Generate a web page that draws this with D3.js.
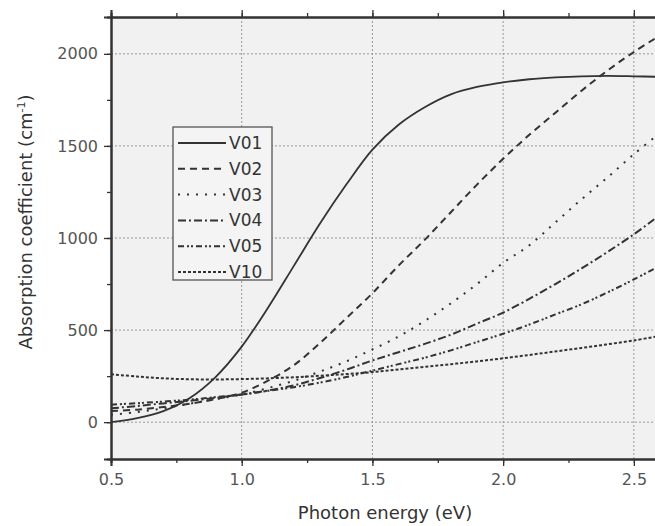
<!DOCTYPE html>
<html>
<head>
<meta charset="utf-8">
<script src="https://cdn.jsdelivr.net/npm/d3@7"></script>
<style>
  body { margin: 0; background: #fff; }
  text { font-family: "DejaVu Sans", Verdana, sans-serif; }
</style>
</head>
<body>
<div id="chart"></div>
<script>
// photon energy (eV) sample points
const energy = [0.5, 0.6, 0.7, 0.8, 0.9, 1.0, 1.1, 1.2, 1.3, 1.4, 1.5, 1.6, 1.7, 1.8, 1.9, 2.0, 2.1, 2.2, 2.3, 2.4, 2.5, 2.6]

// absorption coefficient (cm^-1)
const v01 = [0, 22, 60, 130, 245, 410, 620, 850, 1080, 1290, 1480, 1615, 1710, 1780, 1820, 1845, 1862, 1872, 1878, 1880, 1878, 1875]
const v02 = [60, 68, 82, 100, 125, 160, 225, 310, 430, 565, 700, 850, 990, 1140, 1290, 1430, 1560, 1680, 1800, 1910, 2010, 2100]
const v03 = [40, 55, 75, 100, 125, 150, 185, 225, 275, 330, 395, 465, 550, 645, 750, 865, 960, 1085, 1210, 1330, 1455, 1570]
const v04 = [75, 88, 102, 116, 132, 150, 172, 200, 240, 285, 335, 380, 425, 475, 535, 595, 670, 750, 835, 925, 1020, 1125]
const v05 = [95, 103, 112, 122, 136, 150, 170, 190, 215, 245, 280, 315, 350, 390, 435, 480, 530, 585, 640, 705, 775, 850]
const v10 = [260, 248, 238, 233, 232, 234, 238, 244, 252, 261, 272, 286, 300, 315, 330, 347, 365, 384, 403, 423, 444, 468]

const seriesNames = ['V01', 'V02', 'V03', 'V04', 'V05', 'V10']
const seriesValues = [v01, v02, v03, v04, v05, v10]
const dashes = ['none', '7,5', '2,7', '8,3,2,3', '6,3,2,2,2,3', '3,2']

const xTicks = [0.5, 1.0, 1.5, 2.0, 2.5]
const yTicks = [0, 500, 1000, 1500, 2000]

const size = { width: 655, height: 526, left: 111, top: 17, bottom: 459, right: 660 }

const x = d3.scaleLinear().domain([0.5, 2.6]).range([size.left, size.right])
const y = d3.scaleLinear().domain([-200, 2200]).range([size.bottom, size.top])

const svg = d3.select('#chart')
.append('svg')
.attr('width', size.width)
.attr('height', size.height)

svg.append('rect')
.attr('x', size.left)
.attr('y', size.top)
.attr('width', size.right - size.left)
.attr('height', size.bottom - size.top)
.attr('fill', '#f1f1f1')

// dotted grid at the major ticks
svg.append('g')
.selectAll('line')
.data(xTicks.slice(1))
.enter()
.append('line')
.attr('x1', d => x(d)).attr('x2', d => x(d))
.attr('y1', size.top).attr('y2', size.bottom)
.attr('stroke', '#999').attr('stroke-width', 1).attr('stroke-dasharray', '2,2')

svg.append('g')
.selectAll('line')
.data(yTicks)
.enter()
.append('line')
.attr('x1', size.left).attr('x2', size.right)
.attr('y1', d => y(d)).attr('y2', d => y(d))
.attr('stroke', '#999').attr('stroke-width', 1).attr('stroke-dasharray', '2,2')

const line = d3.line()
.x((d, i) => x(energy[i]))
.y(d => y(d))
.curve(d3.curveCatmullRom)

svg.append('g')
.selectAll('path')
.data(seriesValues)
.enter()
.append('path')
.attr('d', d => line(d))
.attr('fill', 'none')
.attr('stroke', '#333')
.attr('stroke-width', (d, i) => i == 0 ? 1.8 : 2)
.attr('stroke-dasharray', (d, i) => dashes[i])

// axes: bottom / left with labels, top without
const minorX = d3.range(0.5, 2.61, 0.25)
const minorY = d3.range(-250, 2201, 250).filter(v => v >= -200)

svg.append('g')
.attr('transform', `translate(0,${size.bottom})`)
.call(d3.axisBottom(x).tickValues(minorX).tickSize(4).tickFormat(''))
svg.append('g')
.attr('transform', `translate(0,${size.bottom})`)
.call(d3.axisBottom(x).tickValues(xTicks).tickSize(7).tickPadding(8).tickFormat(d3.format('.1f')))

svg.append('g')
.attr('transform', `translate(0,${size.top})`)
.call(d3.axisTop(x).tickValues(minorX).tickSize(4).tickFormat(''))
svg.append('g')
.attr('transform', `translate(0,${size.top})`)
.call(d3.axisTop(x).tickValues(xTicks).tickSize(7).tickFormat(''))

svg.append('g')
.attr('transform', `translate(${size.left},0)`)
.call(d3.axisLeft(y).tickValues(minorY).tickSize(4).tickFormat(''))
svg.append('g')
.attr('transform', `translate(${size.left},0)`)
.call(d3.axisLeft(y).tickValues(yTicks).tickSize(7).tickPadding(6).tickFormat(d3.format('d')))

svg.selectAll('.domain').attr('stroke', '#333').attr('stroke-width', 2)
svg.selectAll('.tick line').attr('stroke', '#333').attr('stroke-width', 1.3)
svg.selectAll('.tick text').attr('fill', '#555').style('font-size', '16px')

svg.append('text')
.attr('x', 385).attr('y', 519)
.attr('text-anchor', 'middle')
.style('font-size', '18px')
.attr('fill', '#333')
.text('Photon energy (eV)')

const yTitle = svg.append('text')
.attr('transform', 'translate(32,222) rotate(-90)')
.attr('text-anchor', 'middle')
.style('font-size', '18px')
.attr('fill', '#333')
yTitle.append('tspan').text('Absorption coefficient (cm')
yTitle.append('tspan').attr('dy', -7).style('font-size', '11px').text('-1')
yTitle.append('tspan').attr('dy', 7).text(')')

// legend
const legend = svg.append('g')
legend.append('rect')
.attr('x', 173).attr('y', 127)
.attr('width', 99).attr('height', 153)
.attr('fill', '#f4f4f4').attr('stroke', '#555').attr('stroke-width', 1.3)

const rowY = d3.scaleLinear().domain([0, 5]).range([143, 272])
const rows = legend.selectAll('g.row')
.data(seriesNames)
.enter()
.append('g')
.attr('class', 'row')
.attr('transform', (d, i) => `translate(0,${rowY(i)})`)

rows.append('line')
.attr('x1', 178).attr('x2', 226)
.attr('stroke', '#333').attr('stroke-width', 2)
.attr('stroke-dasharray', (d, i) => dashes[i])

rows.append('text')
.attr('x', 229).attr('y', 6)
.style('font-size', '17px')
.attr('fill', '#333')
.text(d => d)
</script>
</body>
</html>
